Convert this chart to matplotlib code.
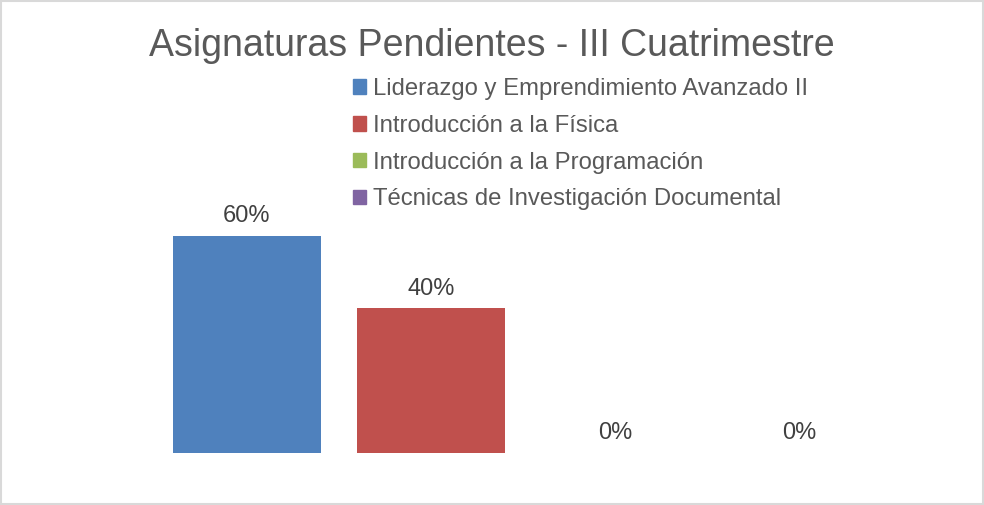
import matplotlib.pyplot as plt
from matplotlib.patches import Patch, Rectangle

plt.rcParams['font.family'] = ['Liberation Sans', 'DejaVu Sans']

titulo = "Asignaturas Pendientes - III Cuatrimestre"
asignaturas = ["Liderazgo y Emprendimiento Avanzado II",
               "Introducción a la Física",
               "Introducción a la Programación",
               "Técnicas de Investigación Documental"]
porcentajes = [0.60, 0.40, 0.0, 0.0]
colores = ["#4F81BD", "#C0504D", "#9BBB59", "#8064A2"]

W, H = 984, 505
fig = plt.figure(figsize=(W / 100, H / 100), dpi=100)
ax = fig.add_axes([155 / W, 52 / H, 736 / W, 362 / H])

x = range(len(asignaturas))
ax.bar(x, porcentajes, width=0.804, color=colores)
for i, v in zip(x, porcentajes):
    ax.text(i, v + 0.024, f"{v:.0%}", ha='center', va='bottom',
            fontsize=17, color='#404040')

ax.set_xlim(-0.5, 3.5)
ax.set_ylim(0, 1)
ax.axis('off')

fig.text(492 / W, 1 - 46 / H, titulo, ha='center', va='center',
         fontsize=27, color='#595959')

handles = [Patch(color=c) for c in colores]
fig.legend(handles, asignaturas, loc='upper left',
           bbox_to_anchor=(353 / W, 1 - 78 / H), frameon=False,
           fontsize=17.2, labelcolor='#595959', handlelength=0.55,
           handleheight=0.55, handletextpad=0.27, labelspacing=0.62,
           borderaxespad=0, borderpad=0)

fig.patches.append(Rectangle((1 / W, 1 / H), 1 - 2 / W, 1 - 2 / H,
                             transform=fig.transFigure, fill=False,
                             edgecolor='#D9D9D9', linewidth=1.5))

plt.savefig('out.png', dpi=100)
